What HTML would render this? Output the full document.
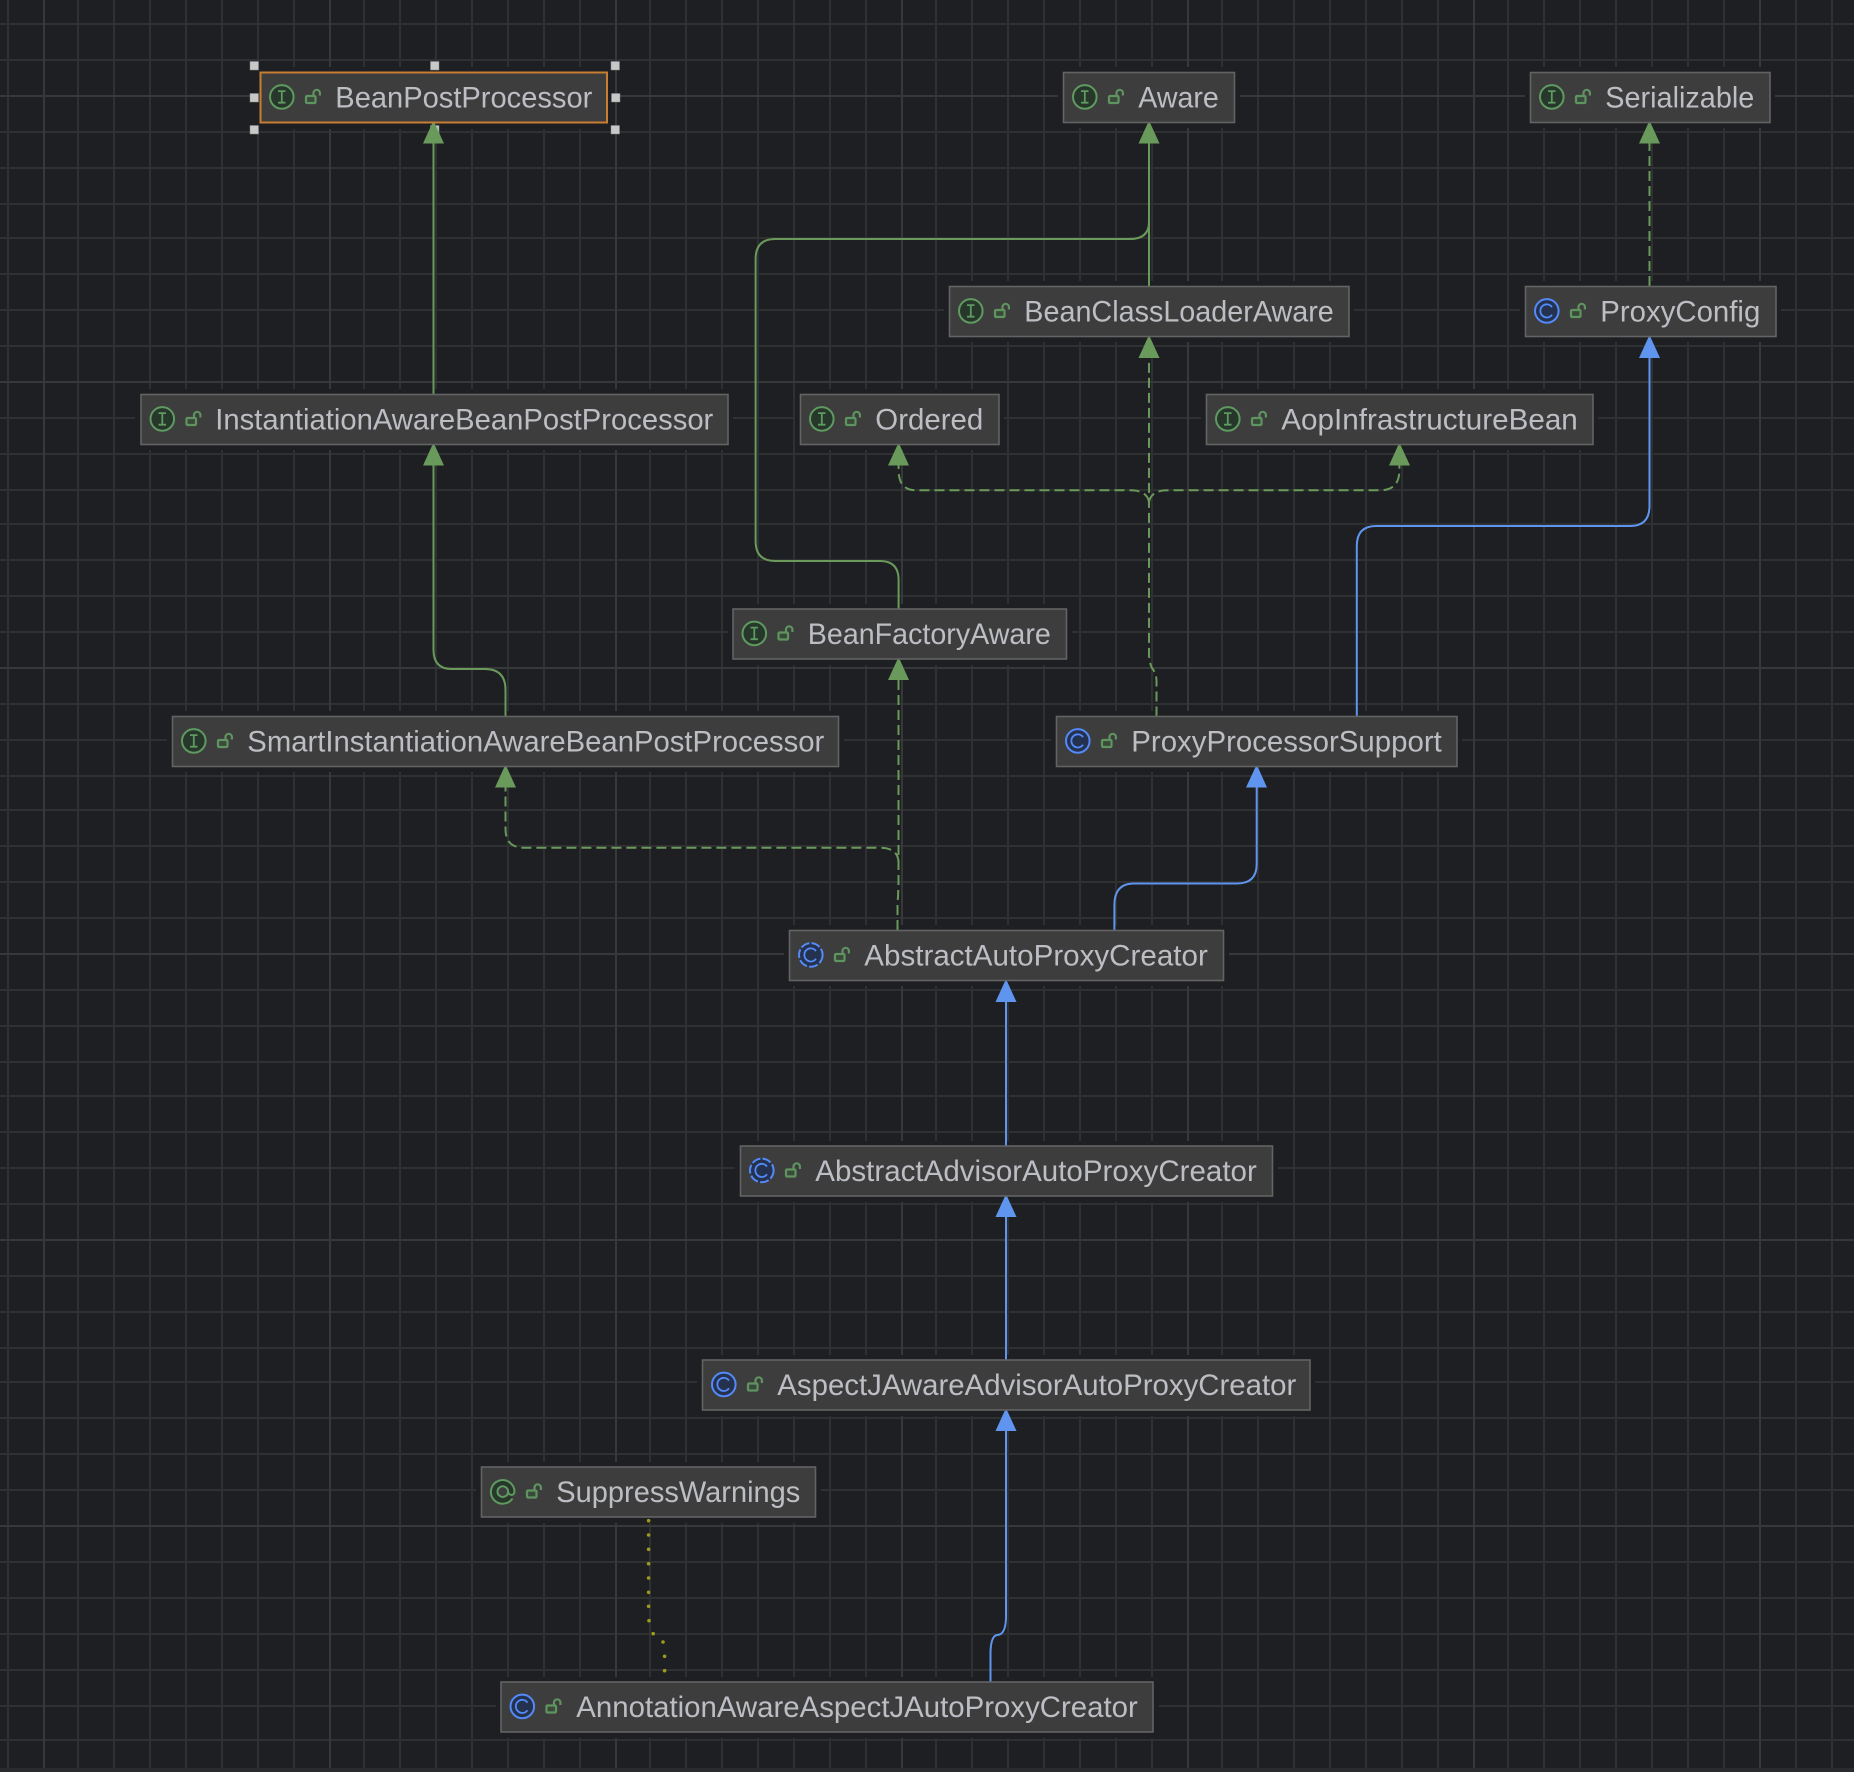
<!DOCTYPE html>
<html>
<head>
<meta charset="utf-8">
<style>
html,body{margin:0;padding:0;background:#1e1f22;}
svg{display:block;}
text.n{font-family:"Liberation Sans",sans-serif;font-size:29.5px;fill:#bcbec4;}
</style>
</head>
<body>
<svg xmlns="http://www.w3.org/2000/svg" width="1854" height="1772" viewBox="0 0 1854 1772">
<defs>
<g id="lock" fill="none" stroke="#5f9460" stroke-width="2.2">
<rect x="45.5" y="23.5" width="9.5" height="7" rx="1" fill="#3a4a3a"/>
<path d="M53 23.5V20.5A3.2 3.2 0 0 1 59.4 20.5V23"/>
</g>
<g id="iI">
<circle cx="21.3" cy="24.4" r="11.8" fill="#27372b" stroke="#5f9a60" stroke-width="2"/>
<path d="M17.5 18.6H25M17.5 30.2H25M21.3 18.6V30.2" stroke="#5f9a60" stroke-width="1.8" fill="none"/>
</g>
<g id="iC">
<circle cx="21.3" cy="24.4" r="11.8" fill="#25324f" stroke="#548af7" stroke-width="2"/>
<path d="M26.5 20.6A6.4 6.6 0 1 0 26.5 28.2" stroke="#548af7" stroke-width="1.8" fill="none"/>
</g>
<g id="iA">
<circle cx="21.3" cy="24.4" r="11.8" fill="#25324f" stroke="#548af7" stroke-width="2" stroke-dasharray="9 2.2"/>
<path d="M26.5 20.6A6.4 6.6 0 1 0 26.5 28.2" stroke="#548af7" stroke-width="1.8" fill="none"/>
</g>
<g id="iAt">
<path d="M31 31.5A11.8 11.8 0 1 1 33 24.4C33 29 27 29 26.6 24.4A5.3 5.3 0 1 0 26.6 24.8" fill="#27372b" stroke="#5f9a60" stroke-width="2"/>
</g>
</defs>

<rect width="1854" height="1772" fill="#1e1f22"/>

<!-- grid -->
<path fill="none" stroke="#2f3032" stroke-width="2" d="
M8 0V1768M78 0V1768M114 0V1768M150 0V1768M186 0V1768M222 0V1768M258 0V1768M294 0V1768
M364 0V1768M400 0V1768M436 0V1768M472 0V1768M508 0V1768M544 0V1768M580 0V1768
M650 0V1768M686 0V1768M722 0V1768M758 0V1768M794 0V1768M830 0V1768M866 0V1768
M936 0V1768M972 0V1768M1008 0V1768M1044 0V1768M1080 0V1768M1116 0V1768M1152 0V1768
M1222 0V1768M1258 0V1768M1294 0V1768M1330 0V1768M1366 0V1768M1402 0V1768M1438 0V1768
M1508 0V1768M1544 0V1768M1580 0V1768M1616 0V1768M1652 0V1768M1688 0V1768M1724 0V1768
M1796 0V1768M1832 0V1768
M0 24H1854M0 60H1854M0 132H1854M0 168H1854M0 204H1854M0 238H1854M0 274H1854M0 310H1854M0 346H1854
M0 418H1854M0 454H1854M0 490H1854M0 524H1854M0 560H1854M0 596H1854M0 632H1854
M0 704H1854M0 740H1854M0 776H1854M0 810H1854M0 846H1854M0 882H1854M0 918H1854
M0 990H1854M0 1026H1854M0 1062H1854M0 1096H1854M0 1132H1854M0 1168H1854M0 1204H1854
M0 1276H1854M0 1312H1854M0 1348H1854M0 1382H1854M0 1418H1854M0 1454H1854M0 1490H1854
M0 1562H1854M0 1598H1854M0 1634H1854M0 1670H1854M0 1706H1854M0 1740H1854"/>
<path fill="none" stroke="#37383a" stroke-width="2" d="
M44 0V1768M330 0V1768M616 0V1768M902 0V1768M1188 0V1768M1474 0V1768M1760 0V1768
M0 96H1854M0 382H1854M0 668H1854M0 954H1854M0 1240H1854M0 1526H1854"/>
<rect x="0" y="1768" width="1854" height="4" fill="#2a2b2e"/>

<!-- halos -->
<g fill="#1e1f22">
<rect x="255" y="67" width="358" height="62"/>
<rect x="1058" y="67" width="182" height="61"/>
<rect x="1525" y="67" width="250" height="61"/>
<rect x="944" y="281" width="410" height="61"/>
<rect x="1520" y="281" width="261" height="61"/>
<rect x="135" y="389" width="598" height="61"/>
<rect x="795" y="389" width="209" height="61"/>
<rect x="1201" y="389" width="397" height="61"/>
<rect x="728" y="604" width="344" height="61"/>
<rect x="167" y="711" width="677" height="61"/>
<rect x="1051" y="711" width="411" height="61"/>
<rect x="784" y="925" width="445" height="61"/>
<rect x="735" y="1141" width="543" height="61"/>
<rect x="697" y="1355" width="618" height="61"/>
<rect x="476" y="1462" width="345" height="61"/>
<rect x="496" y="1677" width="663" height="61"/>
</g>

<!-- connectors: green solid -->
<g fill="none" stroke="#6a9a5b" stroke-width="2">
<path d="M433.5 394V140"/>
<path d="M1149 286V140"/>
<path d="M898.6 609V580Q898.6 561 880 561H775Q755.6 561 755.6 541V259Q755.6 239 775 239H1130Q1149 239 1149 222"/>
<path d="M505.5 716.5V690Q505.5 669 485 669H452Q433.5 669 433.5 650V462"/>
</g>
<!-- green dashed -->
<g fill="none" stroke="#6a9a5b" stroke-width="2" stroke-dasharray="10 5">
<path d="M1649.5 286V140"/>
<path d="M1156.5 716.5V680Q1156 673 1152 668Q1149.5 663 1149 655V355"/>
<path d="M1149 502Q1147 490.3 1130 490.3H916Q898.6 490.3 898.6 470V462"/>
<path d="M1149 502Q1151 490.3 1168 490.3H1380Q1399.4 490.3 1399.4 470V462"/>
<path d="M897.5 930V905Q898.5 890 898.5 880V677"/>
<path d="M898.5 862Q898 848 880 847.7H524Q505.5 847.7 505.5 829V784"/>
</g>
<!-- blue -->
<g fill="none" stroke="#5f95ee" stroke-width="2">
<path d="M1356.8 716.5V546Q1356.8 526 1376 526H1630Q1649.5 526 1649.5 506V355"/>
<path d="M1114.4 930.5V905Q1114.4 883.5 1134 883.5H1237Q1256.7 883.5 1256.7 864V784"/>
<path d="M1006 1146V999"/>
<path d="M1006 1360V1214"/>
<path d="M990.5 1682V1652Q991 1636 997 1635Q1005.5 1635 1006 1618V1428"/>
</g>
<!-- dots -->
<g fill="#9a9a1e">
<circle cx="648.6" cy="1520.7" r="1.8"/><circle cx="648.6" cy="1535" r="1.8"/><circle cx="648.6" cy="1549.3" r="1.8"/><circle cx="648.6" cy="1563.7" r="1.8"/>
<circle cx="648.6" cy="1578" r="1.8"/><circle cx="648.6" cy="1592.3" r="1.8"/><circle cx="648.6" cy="1606.3" r="1.8"/><circle cx="649" cy="1620.7" r="1.8"/>
<circle cx="653.2" cy="1633.7" r="1.8"/><circle cx="663" cy="1642" r="1.8"/><circle cx="664.6" cy="1656.3" r="1.8"/><circle cx="664.6" cy="1670.7" r="1.8"/>
</g>

<!-- handles -->
<g fill="#c8c8c8" stroke="#8a8a8a" stroke-width="0.5">
<rect x="250" y="61.5" width="8.5" height="8.5"/><rect x="430.5" y="61.5" width="8.5" height="8.5"/><rect x="611" y="61.5" width="8.5" height="8.5"/>
<rect x="250" y="93.5" width="8.5" height="8.5"/><rect x="611.5" y="93.5" width="8.5" height="8.5"/>
<rect x="250" y="125.5" width="8.5" height="8.5"/><rect x="430.5" y="125.5" width="8.5" height="8.5"/><rect x="611" y="125.5" width="8.5" height="8.5"/>
</g>

<!-- arrowheads -->
<g fill="#6a9a5b">
<path d="M433.5 120.5L444 143.5H423Z"/>
<path d="M1149 120.5L1159.5 143.5H1138.5Z"/>
<path d="M1649.5 120.5L1660 143.5H1639Z"/>
<path d="M1149 335L1159.5 358H1138.5Z"/>
<path d="M433.5 442.5L444 465.5H423Z"/>
<path d="M898.6 442.5L909 465.5H888Z"/>
<path d="M1399.4 442.5L1410 465.5H1389Z"/>
<path d="M898.6 657L909 680H888Z"/>
<path d="M505.5 764.5L516 787.5H495Z"/>
</g>
<g fill="#5f95ee">
<path d="M1649.5 335L1660 358H1639Z"/>
<path d="M1256.7 764.5L1267 787.5H1246Z"/>
<path d="M1006 979L1016.5 1002H995.5Z"/>
<path d="M1006 1194L1016.5 1217H995.5Z"/>
<path d="M1006 1408L1016.5 1431H995.5Z"/>
</g>

<!-- nodes -->
<g transform="translate(260.5,72.5)"><rect width="346.5" height="50" fill="#3d3d3d" stroke="#c77d32" stroke-width="2"/><use href="#iI"/><use href="#lock"/><text class="n" x="74.8" y="35" textLength="257" lengthAdjust="spacingAndGlyphs">BeanPostProcessor</text></g>
<g transform="translate(1063.5,72.5)"><rect width="171" height="50" fill="#3d3d3d" stroke="#636363" stroke-width="1.6"/><use href="#iI"/><use href="#lock"/><text class="n" x="74.8" y="35" textLength="80.5" lengthAdjust="spacingAndGlyphs">Aware</text></g>
<g transform="translate(1530.5,72.5)"><rect width="239.5" height="50" fill="#3d3d3d" stroke="#636363" stroke-width="1.6"/><use href="#iI"/><use href="#lock"/><text class="n" x="74.8" y="35" textLength="149" lengthAdjust="spacingAndGlyphs">Serializable</text></g>
<g transform="translate(949.5,286.5)"><rect width="399.5" height="50" fill="#3d3d3d" stroke="#636363" stroke-width="1.6"/><use href="#iI"/><use href="#lock"/><text class="n" x="74.8" y="35" textLength="309.5" lengthAdjust="spacingAndGlyphs">BeanClassLoaderAware</text></g>
<g transform="translate(1525.5,286.5)"><rect width="250.5" height="50" fill="#3d3d3d" stroke="#636363" stroke-width="1.6"/><use href="#iC"/><use href="#lock"/><text class="n" x="74.8" y="35" textLength="160" lengthAdjust="spacingAndGlyphs">ProxyConfig</text></g>
<g transform="translate(141,394.5)"><rect width="587" height="50" fill="#3d3d3d" stroke="#636363" stroke-width="1.6"/><use href="#iI"/><use href="#lock"/><text class="n" x="74.3" y="35" textLength="498" lengthAdjust="spacingAndGlyphs">InstantiationAwareBeanPostProcessor</text></g>
<g transform="translate(800.5,394.5)"><rect width="198.5" height="50" fill="#3d3d3d" stroke="#636363" stroke-width="1.6"/><use href="#iI"/><use href="#lock"/><text class="n" x="74.8" y="35" textLength="108" lengthAdjust="spacingAndGlyphs">Ordered</text></g>
<g transform="translate(1206.5,394.5)"><rect width="386.5" height="50" fill="#3d3d3d" stroke="#636363" stroke-width="1.6"/><use href="#iI"/><use href="#lock"/><text class="n" x="74.8" y="35" textLength="296.5" lengthAdjust="spacingAndGlyphs">AopInfrastructureBean</text></g>
<g transform="translate(733,609)"><rect width="333.5" height="50" fill="#3d3d3d" stroke="#636363" stroke-width="1.6"/><use href="#iI"/><use href="#lock"/><text class="n" x="74.8" y="35" textLength="243" lengthAdjust="spacingAndGlyphs">BeanFactoryAware</text></g>
<g transform="translate(172.5,716.5)"><rect width="666" height="50" fill="#3d3d3d" stroke="#636363" stroke-width="1.6"/><use href="#iI"/><use href="#lock"/><text class="n" x="74.8" y="35" textLength="577" lengthAdjust="spacingAndGlyphs">SmartInstantiationAwareBeanPostProcessor</text></g>
<g transform="translate(1056.5,716.5)"><rect width="400.5" height="50" fill="#3d3d3d" stroke="#636363" stroke-width="1.6"/><use href="#iC"/><use href="#lock"/><text class="n" x="74.8" y="35" textLength="310.5" lengthAdjust="spacingAndGlyphs">ProxyProcessorSupport</text></g>
<g transform="translate(789.5,930.5)"><rect width="434" height="50" fill="#3d3d3d" stroke="#636363" stroke-width="1.6"/><use href="#iA"/><use href="#lock"/><text class="n" x="74.8" y="35" textLength="343.5" lengthAdjust="spacingAndGlyphs">AbstractAutoProxyCreator</text></g>
<g transform="translate(740.5,1146)"><rect width="532" height="50" fill="#3d3d3d" stroke="#636363" stroke-width="1.6"/><use href="#iA"/><use href="#lock"/><text class="n" x="74.8" y="35" textLength="441.5" lengthAdjust="spacingAndGlyphs">AbstractAdvisorAutoProxyCreator</text></g>
<g transform="translate(702.5,1360)"><rect width="607.5" height="50" fill="#3d3d3d" stroke="#636363" stroke-width="1.6"/><use href="#iC"/><use href="#lock"/><text class="n" x="74.8" y="35" textLength="519" lengthAdjust="spacingAndGlyphs">AspectJAwareAdvisorAutoProxyCreator</text></g>
<g transform="translate(481.5,1467)"><rect width="334" height="50" fill="#3d3d3d" stroke="#636363" stroke-width="1.6"/><use href="#iAt"/><use href="#lock"/><text class="n" x="74.8" y="35" textLength="244" lengthAdjust="spacingAndGlyphs">SuppressWarnings</text></g>
<g transform="translate(501,1682)"><rect width="652" height="50" fill="#3d3d3d" stroke="#636363" stroke-width="1.6"/><use href="#iC"/><use href="#lock"/><text class="n" x="75.3" y="35" textLength="561.5" lengthAdjust="spacingAndGlyphs">AnnotationAwareAspectJAutoProxyCreator</text></g>
</svg>
</body>
</html>
